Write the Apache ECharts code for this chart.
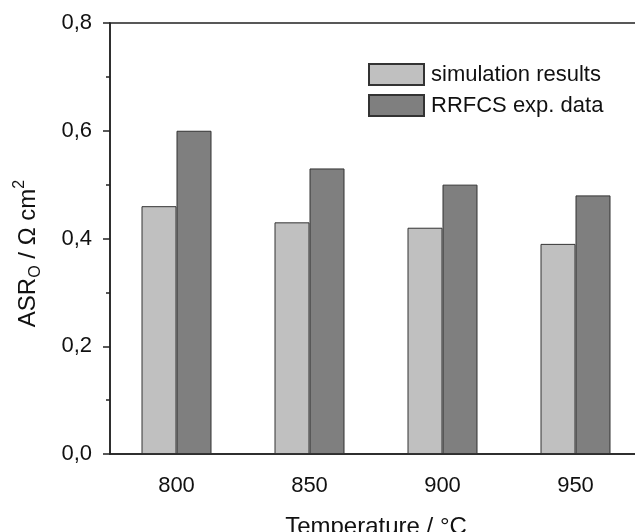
<!DOCTYPE html>
<html>
<head>
<meta charset="utf-8">
<script src="https://cdn.jsdelivr.net/npm/echarts@6/dist/echarts.min.js"></script>
<style>
  html, body { margin: 0; padding: 0; background: #fff; }
  #main { width: 635px; height: 532px; }
</style>
</head>
<body>
<div id="main"></div>
<script>
var temperatures = ['800', '850', '900', '950'];
var simulation = [0.46, 0.43, 0.42, 0.39];
var experiment = [0.60, 0.53, 0.50, 0.48];

var font = 'Liberation Sans, Arial, sans-serif';

var myChart = echarts.init(document.getElementById('main'));

var option = {
	backgroundColor: '#fff',
	animation: false,
	grid: {
		left: 110,
		right: -7,
		top: 23,
		bottom: 78,
		outerBoundsMode: 'none',
		show: true,
		borderColor: '#222',
		borderWidth: 1.5,
		backgroundColor: 'transparent'
	},
	legend: {
		orient: 'vertical',
		left: 368,
		top: 63,
		padding: 0,
		itemWidth: 55,
		itemHeight: 21,
		itemGap: 8,
		icon: 'rect',
		textStyle: {
			fontFamily: font,
			fontSize: 22,
			color: '#111',
			padding: [0, 0, 0, 2]
		},
		data: ['simulation results', 'RRFCS exp. data']
	},
	xAxis: {
		type: 'category',
		data: temperatures,
		name: 'Temperature / °C',
		nameLocation: 'middle',
		nameGap: 61,
		nameTextStyle: {
			fontFamily: font,
			fontSize: 24,
			color: '#111'
		},
		axisLine: { lineStyle: { color: '#222', width: 1.5 } },
		axisTick: {
			alignWithLabel: true,
			length: 8,
			lineStyle: { color: '#222', width: 1.5 }
		},
		axisLabel: {
			margin: 21,
			fontFamily: font,
			fontSize: 22,
			color: '#111'
		}
	},
	yAxis: {
		type: 'value',
		min: 0,
		max: 0.8,
		interval: 0.2,
		name: 'ASR{sub|O} / Ω cm{sup|2}',
		nameLocation: 'middle',
		nameGap: 66,
		nameRotate: 90,
		nameTextStyle: {
			fontFamily: font,
			fontSize: 24,
			color: '#111',
			lineHeight: 32,
			padding: [0, 30, 0, 0],
			rich: {
				sub: { fontFamily: font, fontSize: 16, color: '#111', verticalAlign: 'bottom', lineHeight: 32 },
				sup: { fontFamily: font, fontSize: 16, color: '#111', verticalAlign: 'top', lineHeight: 32 }
			}
		},
		axisLine: { show: true, lineStyle: { color: '#222', width: 1.5 } },
		axisTick: {
			show: true,
			length: 7,
			lineStyle: { color: '#222', width: 1.5 }
		},
		minorTick: {
			show: true,
			splitNumber: 2,
			length: 4,
			lineStyle: { color: '#222', width: 1.5 }
		},
		splitLine: { show: false },
		axisLabel: {
			margin: 18,
			fontFamily: font,
			fontSize: 22,
			color: '#111',
			formatter: function (v) { return v.toFixed(1).replace('.', ','); }
		}
	},
	series: [
		{
			name: 'simulation results',
			type: 'bar',
			data: simulation,
			barWidth: 35,
			barGap: 0,
			itemStyle: { color: '#c0c0c0', borderColor: '#333', borderWidth: 1 }
		},
		{
			name: 'RRFCS exp. data',
			type: 'bar',
			data: experiment,
			barWidth: 35,
			barGap: 0,
			itemStyle: { color: '#7f7f7f', borderColor: '#333', borderWidth: 1 }
		}
	]
};

myChart.setOption(option);
</script>
</body>
</html>
